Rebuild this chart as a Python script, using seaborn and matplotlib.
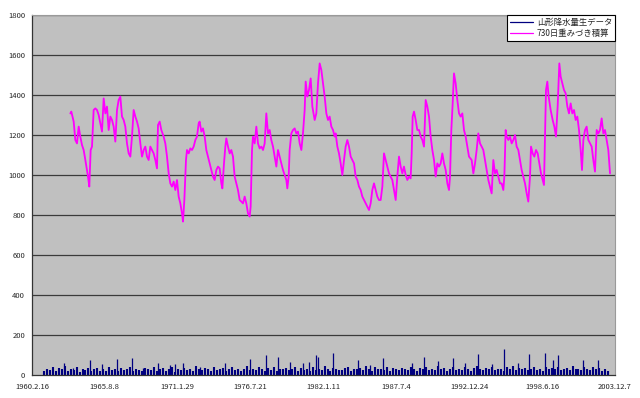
import numpy as np
import matplotlib
matplotlib.use("Agg")
import matplotlib.pyplot as plt
from matplotlib.lines import Line2D
import seaborn as sns

# ---------------- data ----------------
# x axis: days since 1960.2.16
x_tick_days = [0, 2000, 4000, 6000, 8000, 10000, 12000, 14000, 16000]
x_tick_labels = ["1960.2.16", "1965.8.8", "1971.1.29", "1976.7.21", "1982.1.11",
                 "1987.7.4", "1992.12.24", "1998.6.16", "2003.12.7"]
y_ticks = [0, 200, 400, 600, 800, 1000, 1200, 1400, 1600, 1800]

series_names = ["山形降水量生データ", "730日重みづき積算"]

# 730-day weighted accumulation (magenta)
mag_days = [
    1052, 1079, 1144, 1189, 1235, 1281, 1326, 1372, 1418, 1464, 1537, 1573, 1610, 1647,
    1692, 1738, 1784, 1830, 1875, 1921, 1967, 2013, 2058, 2104, 2150, 2196, 2241, 2287,
    2333, 2378, 2424, 2470, 2516, 2561, 2607, 2653, 2699, 2744, 2790, 2836, 2882, 2927,
    2973, 3019, 3065, 3110, 3156, 3202, 3247, 3293, 3339, 3385, 3430, 3458, 3504, 3549,
    3613, 3659, 3705, 3751, 3796, 3842, 3888, 3934, 3979, 4025, 4071, 4117, 4144, 4181,
    4226, 4254, 4300, 4345, 4391, 4437, 4483, 4528, 4574,
    4601, 4647, 4693, 4739, 4784, 4830, 4876, 4922, 4967, 5013, 5059, 5105, 5150, 5196,
    5224, 5269, 5306, 5333, 5379, 5425, 5470, 5516, 5562, 5608, 5653, 5699, 5745, 5791,
    5836, 5882, 5928, 5974, 6001, 6038, 6065, 6111, 6157, 6202, 6248, 6294, 6340, 6385,
    6431, 6477, 6523, 6568, 6614, 6660, 6706, 6751, 6797, 6843, 6888, 6934, 6980, 7007,
    7044, 7071, 7117, 7163, 7209, 7254, 7300, 7346, 7392, 7437, 7483, 7511, 7556, 7602,
    7648, 7694, 7758, 7803, 7849, 7895, 7941, 7986, 8032, 8078, 8124, 8169, 8215, 8261,
    8307,
    8334, 8380, 8425, 8471, 8517, 8563, 8608, 8654, 8700, 8746, 8791, 8837, 8883, 8929,
    8974, 9020, 9066, 9112, 9157, 9203, 9249, 9294, 9340, 9386, 9432, 9477, 9523, 9569,
    9615, 9660, 9706, 9752, 9798, 9843, 9889, 9935, 9981, 10026, 10072, 10118, 10164,
    10209, 10255, 10301, 10347, 10392, 10420, 10447, 10484, 10530, 10575, 10621, 10667,
    10713, 10758, 10804, 10850, 10896, 10941, 10987, 11033, 11079, 11124, 11170, 11216,
    11261, 11307, 11353, 11399, 11444, 11472, 11508, 11545, 11581, 11627, 11673, 11719,
    11764, 11810, 11856, 11902, 11947, 11993,
    12066, 12112, 12158, 12203, 12249, 12295, 12341, 12386, 12432, 12478, 12524, 12569,
    12615, 12661, 12707, 12752, 12798, 12844, 12889, 12935, 12963, 12999, 13027, 13073,
    13118, 13164, 13210, 13256, 13301, 13347, 13393, 13438, 13484, 13530, 13576, 13621,
    13667, 13695, 13740, 13786, 13832, 13878, 13923, 13969, 14015, 14051, 14079, 14106,
    14143, 14179, 14234, 14289, 14335, 14380, 14426, 14472, 14509, 14555, 14600, 14646,
    14692, 14737, 14783, 14829, 14875, 14920, 14966, 15012, 15058, 15094, 15131, 15177,
    15222, 15268, 15314, 15360, 15405, 15451, 15497, 15543, 15588, 15634, 15680, 15725,
    15771, 15817, 15863,
]
mag_vals = [
    1308, 1317, 1267, 1175, 1158, 1242, 1192, 1150, 1125, 1075, 992, 942, 1125, 1142,
    1325, 1333, 1325, 1300, 1258, 1217, 1383, 1308, 1342, 1225, 1292, 1275, 1242, 1167,
    1325, 1375, 1392, 1292, 1275, 1242, 1158, 1108, 1092, 1192, 1325, 1292, 1267, 1233,
    1158, 1092, 1125, 1142, 1092, 1075, 1142, 1125, 1108, 1075, 1033, 1250, 1267, 1225,
    1192, 1158, 1092, 1008, 958, 942, 967, 925, 975, 892, 858, 808, 767, 875,
    1075, 1125, 1108, 1133, 1125, 1142, 1175, 1192, 1258,
    1267, 1217, 1233, 1192, 1125, 1092, 1058, 1025, 992, 975, 1025, 1042, 1033, 958,
    933, 1058, 1142, 1183, 1142, 1108, 1125, 1092, 992, 958, 925, 875, 867, 858,
    892, 858, 808, 792, 842, 1125, 1192, 1158, 1242, 1158, 1133, 1142, 1125, 1158,
    1308, 1208, 1225, 1175, 1142, 1092, 1042, 1125, 1092, 1058, 1025, 1000, 975, 933,
    992, 1125, 1208, 1225, 1233, 1208, 1217, 1158, 1125, 1208, 1325, 1467, 1392, 1425,
    1483, 1342, 1275, 1308, 1458, 1558, 1525, 1458, 1392, 1308, 1275, 1292, 1242, 1225,
    1192,
    1208, 1142, 1108, 1058, 1000, 1075, 1142, 1175, 1142, 1092, 1075, 1058, 992, 975,
    942, 925, 892, 875, 858, 842, 825, 858, 925, 958, 925, 892, 875, 875,
    942, 1108, 1075, 1042, 1008, 992, 975, 925, 875, 992, 1092, 1042, 1008,
    1042, 1000, 975, 992, 983, 1108, 1292, 1317, 1275, 1225, 1225, 1192,
    1175, 1142, 1375, 1342, 1292, 1192, 1125, 1075, 992, 1058, 1042, 1058,
    1108, 1058, 1025, 958, 925, 992, 1225, 1358, 1508, 1458, 1375, 1308,
    1292, 1308, 1225, 1192, 1142, 1092,
    1075, 1008, 1058, 1125, 1208, 1158, 1142, 1125, 1075, 1025, 975, 942,
    908, 1075, 1008, 1025, 992, 958, 958, 925, 992, 1225, 1192, 1175,
    1192, 1158, 1175, 1200, 1142, 1125, 1075, 1025, 992, 958, 908, 867,
    992, 1142, 1108, 1092, 1125, 1108, 1058, 1008, 975, 950, 1192, 1425,
    1467, 1392, 1325, 1275, 1242, 1192, 1342, 1558, 1492, 1458, 1425, 1408,
    1342, 1308, 1358, 1308, 1325, 1275, 1292, 1225, 1125, 1025, 1175, 1225,
    1242, 1175, 1158, 1142, 1075, 1017, 1225, 1208, 1225, 1283, 1208, 1225,
    1175, 1125, 1008,
]

# raw daily precipitation (navy): background level, one reading every 82 days from day 320
rain_base_start = 320
rain_base_step = 82
rain_base = [
    18, 30, 25, 40, 22, 35, 28, 45, 20, 32,
    26, 38, 15, 30, 24, 36, 20, 28, 34, 22,
    30, 18, 40, 25, 32, 20, 36, 24, 28, 42,
    22, 30, 26, 18, 35, 28, 24, 40, 20, 30,
    34, 22, 28, 38, 16, 30, 26, 36, 24, 32,
    20, 44, 28, 24, 34, 30, 18, 38, 26, 30,
    36, 22, 28, 40, 24, 32, 20, 30, 46, 26,
    30, 24, 38, 28, 20, 34, 26, 42, 22, 30,
    28, 36, 24, 30, 40, 22, 34, 26, 30, 20,
    38, 26, 32, 24, 44, 28, 20, 36, 30, 26,
    24, 34, 40, 22, 30, 28, 36, 24, 46, 30,
    22, 38, 28, 32, 26, 40, 20, 34, 30, 24,
    36, 28, 24, 42, 30, 22, 34, 28, 38, 26,
    30, 24, 44, 28, 36, 20, 32, 40, 26, 30,
    26, 38, 30, 22, 34, 46, 28, 24, 36, 30,
    40, 26, 32, 28, 22, 38, 30, 44, 24, 34,
    28, 36, 24, 30, 42, 26, 32, 22, 38, 30,
    34, 28, 40, 24, 30, 36, 26, 44, 28, 32,
    24, 38, 30, 26, 40, 28, 34, 22, 30, 20,
]
# heavy-rain days (navy spikes)
rain_peak_days = [886, 1134, 1592, 1913, 2324, 2736, 3055, 3466, 3787, 3924, 4152, 4611,
                  5297, 5983, 6414, 6760, 7081, 7446, 7611, 7794, 7858, 8253, 8955, 9276,
                  9642, 10421, 10758, 11150, 11546, 11883, 12248, 12616, 12954, 13346,
                  13648, 14079, 14307, 14444, 15113, 15541]
rain_peak_vals = [58, 33, 75, 55, 78, 87, 37, 62, 50, 55, 58, 42,
                  62, 78, 100, 92, 67, 58, 67, 100, 92, 108, 75, 50,
                  83, 62, 92, 70, 83, 58, 105, 55, 128, 58,
                  105, 108, 75, 100, 75, 75]

# ---------------- plot ----------------
sns.set_style("white", {"axes.facecolor": "#C0C0C0"})
plt.rcParams["font.family"] = ["Noto Sans CJK JP", "DejaVu Sans"]

navy = "#000080"
magenta = "#FF00FF"

fig = plt.figure(figsize=(6.4, 3.98), dpi=100)
ax = fig.add_axes([32 / 640, 23 / 398, 583 / 640, 360 / 398])

for y in y_ticks[1:]:
    ax.axhline(y, color="#3a3a3a", lw=0.9, zorder=1)

rain_days = [rain_base_start + rain_base_step * i for i in range(len(rain_base))]
ax.vlines(rain_days, 0, rain_base, color=navy, lw=1.5, zorder=2)
ax.vlines(rain_peak_days, 0, rain_peak_vals, color=navy, lw=0.9, zorder=2)

sns.lineplot(x=mag_days, y=mag_vals, color=magenta, lw=1.3, ax=ax, zorder=3)

ax.set_xlim(0, 16000)
ax.set_ylim(0, 1800)
ax.set_xticks(x_tick_days)
ax.set_xticklabels(x_tick_labels)
ax.set_yticks(y_ticks)
ax.set_yticklabels([str(v) for v in y_ticks])
ax.tick_params(axis="both", labelsize=5.5, length=3, width=0.8, color="#333333",
               direction="out", pad=2)
ax.tick_params(axis="x", pad=3)
ax.set_xlabel("")
ax.set_ylabel("")

for s in ["left", "bottom"]:
    ax.spines[s].set_color("#333333")
    ax.spines[s].set_linewidth(0.9)
for s in ["top", "right"]:
    ax.spines[s].set_color("#9a9a9a")
    ax.spines[s].set_linewidth(0.8)

handles = [Line2D([], [], color=navy, lw=0.9), Line2D([], [], color=magenta, lw=0.9)]
leg = ax.legend(handles, series_names, loc="upper right", bbox_to_anchor=(1.0, 1.0),
                fontsize=6, frameon=True, fancybox=False, borderaxespad=0.0,
                handlelength=2.8, handletextpad=0.4, borderpad=0.35, labelspacing=0.25)
leg.get_frame().set_edgecolor("#000000")
leg.get_frame().set_linewidth(0.8)
leg.get_frame().set_facecolor("white")
leg.get_frame().set_alpha(1.0)

fig.savefig("out.png", dpi=100, facecolor="white")
